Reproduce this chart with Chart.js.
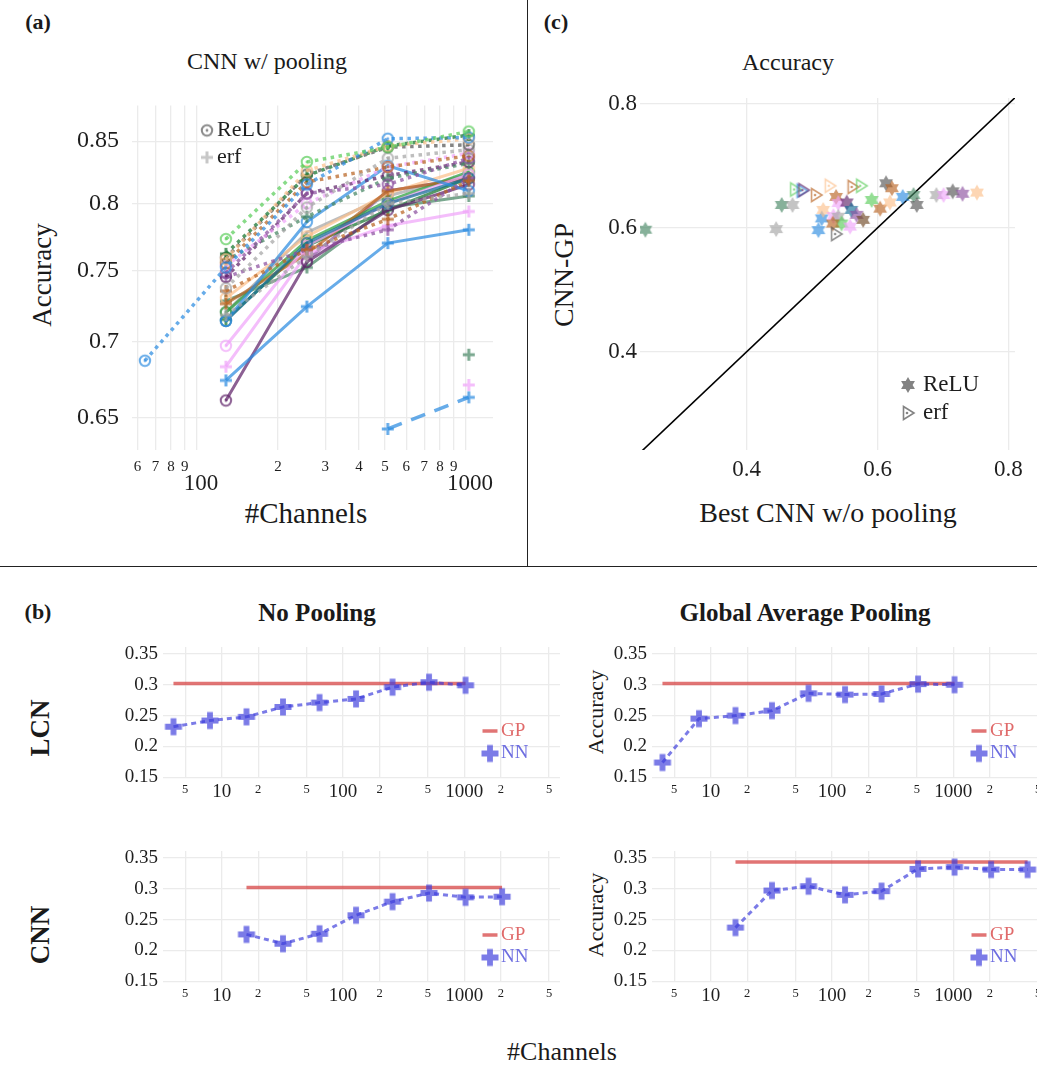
<!DOCTYPE html>
<html>
<head>
<meta charset="utf-8">
<script src="https://cdn.jsdelivr.net/npm/chart.js@4.4.1/dist/chart.umd.min.js"></script>
<style>
  body { margin: 0; width: 1037px; height: 1082px; overflow: hidden; position: relative; background: #fff;
         font-family: "Liberation Serif", "Times New Roman", serif; color: #1a1a1a; }
  canvas { position: absolute; }
  .t { position: absolute; white-space: nowrap; transform: translate(-50%, -50%); line-height: 1; }
  .v { transform: translate(-50%, -50%) rotate(-90deg); }
  .b { font-weight: bold; }
  .rule { position: absolute; background: #222; }
</style>
</head>
<body>

<div class="rule" style="left:527px;top:0;width:1px;height:566px"></div>
<div class="rule" style="left:0;top:566px;width:1037px;height:1px"></div>

<div class="t b" style="left:38px;top:22px;font-size:22px">(a)</div>
<div class="t b" style="left:556px;top:22px;font-size:22px">(c)</div>
<div class="t b" style="left:38px;top:612px;font-size:22px">(b)</div>

<div class="t" style="left:267px;top:61px;font-size:24px">CNN w/ pooling</div>
<div class="t v" style="left:42px;top:275px;font-size:27px">Accuracy</div>
<div class="t" style="left:306px;top:513px;font-size:29px">#Channels</div>

<div class="t" style="left:788px;top:62px;font-size:24px">Accuracy</div>
<div class="t v" style="left:564px;top:275px;font-size:28px">CNN-GP</div>
<div class="t" style="left:828px;top:513px;font-size:28px">Best CNN w/o pooling</div>

<div class="t b" style="left:317px;top:612px;font-size:25px">No Pooling</div>
<div class="t b" style="left:805px;top:612px;font-size:25px">Global Average Pooling</div>
<div class="t v b" style="left:40px;top:728px;font-size:27px">LCN</div>
<div class="t v b" style="left:40px;top:935px;font-size:27px">CNN</div>
<div class="t v" style="left:596px;top:712px;font-size:22px">Accuracy</div>
<div class="t v" style="left:596px;top:915px;font-size:22px">Accuracy</div>
<div class="t" style="left:562px;top:1052px;font-size:26px">#Channels</div>

<canvas id="pa"></canvas>
<canvas id="pc"></canvas>
<canvas id="lcnNo"></canvas>
<canvas id="lcnGap"></canvas>
<canvas id="cnnNo"></canvas>
<canvas id="cnnGap"></canvas>

<script>
// ---------- (a) CNN w/ pooling ----------
const aChannels = [64, 128, 256, 512, 1024]
const aAccuracy = [
  [null, 0.773, 0.833, 0.845, 0.858],
  [0.687, 0.752, 0.815, 0.852, 0.853],
  [null, 0.758, 0.826, 0.846, 0.852],
  [null, 0.762, 0.822, 0.846, 0.855],
  [null, 0.759, 0.823, 0.845, 0.847],
  [null, 0.737, 0.797, 0.836, 0.843],
  [null, 0.755, 0.817, 0.829, 0.838],
  [null, 0.748, 0.808, 0.815, 0.836],
  [null, 0.753, 0.800, 0.829, 0.840],
  [null, 0.757, 0.790, 0.820, 0.832],
  [null, 0.745, 0.808, 0.822, 0.833],
  [null, 0.718, 0.760, 0.800, 0.808],
  [null, 0.735, 0.765, 0.788, 0.818],
  [null, 0.745, 0.765, 0.780, 0.820],
  [null, 0.674, 0.724, 0.770, 0.780],
  [null, 0.714, 0.786, 0.830, 0.810],
  [null, 0.714, 0.770, 0.800, 0.820],
  [null, 0.661, 0.756, 0.795, 0.815],
  [null, 0.697, 0.768, 0.800, 0.823],
  [null, 0.683, 0.762, 0.783, 0.794],
  [null, 0.726, 0.762, 0.810, 0.820],
  [null, 0.730, 0.775, 0.808, 0.828],
  [null, 0.728, 0.752, 0.797, 0.806],
  [null, 0.720, 0.772, 0.802, 0.825],
  [null, 0.715, 0.768, 0.795, 0.820],
  [null, 0.720, 0.778, 0.806, 0.823],
  [null, null, 0.757, 0.810, 0.820],
  [null, null, null, null, 0.691],
  [null, null, null, null, 0.671],
  [null, null, null, 0.643, 0.663]
]
const aActivation = ['ReLU', 'ReLU', 'ReLU', 'erf', 'ReLU', 'ReLU', 'ReLU', 'ReLU', 'ReLU', 'erf',
  'ReLU', 'erf', 'erf', 'erf', 'erf', 'ReLU', 'ReLU', 'ReLU', 'ReLU', 'erf',
  'erf', 'ReLU', 'erf', 'ReLU', 'erf', 'ReLU', 'ReLU', 'erf', 'erf', 'erf']
const aXTicks = [60, 70, 80, 90, 100, 200, 300, 400, 500, 600, 700, 800, 900, 1000]
const aYTicks = [0.65, 0.7, 0.75, 0.8, 0.85]

// ---------- (c) CNN-GP vs best CNN w/o pooling ----------
const cBestCNN = [0.245, 0.445, 0.4535, 0.470, 0.5096, 0.5147, 0.517, 0.5325, 0.5366, 0.540,
  0.553, 0.540, 0.545, 0.5315, 0.558, 0.560, 0.568, 0.578, 0.591, 0.604,
  0.619, 0.613, 0.622, 0.6385, 0.655, 0.660, 0.690, 0.701, 0.715, 0.730, 0.752,
  0.474, 0.484, 0.4867, 0.506, 0.527, 0.562, 0.575, 0.5366]
const cCNNGP = [0.597, 0.598, 0.637, 0.637, 0.5964, 0.6153, 0.629, 0.619, 0.650, 0.640,
  0.641, 0.618, 0.607, 0.607, 0.602, 0.629, 0.621, 0.613, 0.645, 0.631,
  0.641, 0.672, 0.664, 0.650, 0.653, 0.637, 0.653, 0.653, 0.659, 0.655, 0.657,
  0.662, 0.660, 0.661, 0.653, 0.668, 0.666, 0.668, 0.590]
const cActivation = ['ReLU', 'ReLU', 'ReLU', 'ReLU', 'ReLU', 'ReLU', 'ReLU', 'ReLU', 'ReLU', 'ReLU',
  'ReLU', 'ReLU', 'ReLU', 'ReLU', 'ReLU', 'ReLU', 'ReLU', 'ReLU', 'ReLU', 'ReLU',
  'ReLU', 'ReLU', 'ReLU', 'ReLU', 'ReLU', 'ReLU', 'ReLU', 'ReLU', 'ReLU', 'ReLU', 'ReLU',
  'erf', 'erf', 'erf', 'erf', 'erf', 'erf', 'erf', 'erf']
const cTicks = [0.4, 0.6, 0.8]

// ---------- (b) accuracy vs #channels ----------
const bXTicks = [5, 10, 20, 50, 100, 200, 500, 1000, 2000, 5000]
const bYTicks = [0.15, 0.2, 0.25, 0.3, 0.35]
const lcnNoPoolCh = [4, 8, 16, 32, 64, 128, 256, 512, 1024]
const lcnNoPoolNN = [0.232, 0.242, 0.248, 0.264, 0.271, 0.277, 0.296, 0.304, 0.299]
const lcnNoPoolGP = 0.302
const lcnGapCh = [4, 8, 16, 32, 64, 128, 256, 512, 1024]
const lcnGapNN = [0.174, 0.245, 0.250, 0.258, 0.286, 0.284, 0.285, 0.301, 0.300]
const lcnGapGP = 0.302
const cnnNoPoolCh = [16, 32, 64, 128, 256, 512, 1024, 2048]
const cnnNoPoolNN = [0.226, 0.211, 0.227, 0.257, 0.279, 0.293, 0.286, 0.287]
const cnnNoPoolGP = 0.302
const cnnGapCh = [16, 32, 64, 128, 256, 512, 1024, 2048, 4096]
const cnnGapNN = [0.237, 0.297, 0.304, 0.290, 0.296, 0.332, 0.335, 0.331, 0.331]
const cnnGapGP = 0.343


// ---------- styling ----------
const FONT = '"Liberation Serif", "Times New Roman", serif'
const INK = '#1e1e1e'
const GRID = '#ebebeb'

const pal = {
  blue: '45,140,225', lightGreen: '90,205,90', darkGreen: '20,115,45', seaGreen: '70,135,100',
  green: '40,160,60', peach: '252,192,140', brown: '185,100,35', darkBrown: '110,70,35',
  gray: '165,165,165', darkGray: '85,85,85', pink: '240,165,250', purple: '140,80,160',
  darkPurple: '95,35,105', teal: '20,110,150'
}
const aColor = ['lightGreen', 'blue', 'peach', 'darkGreen', 'darkGray', 'gray', 'brown', 'purple', 'pink', 'seaGreen',
  'darkPurple', 'gray', 'brown', 'purple', 'blue', 'blue', 'teal', 'darkPurple', 'pink', 'pink',
  'brown', 'peach', 'seaGreen', 'green', 'darkGreen', 'gray', 'purple', 'seaGreen', 'pink', 'blue']
const aLine = ['dot', 'dot', 'dot', 'dot', 'dot', 'dot', 'dot', 'dot', 'dot', 'dot',
  'dot', 'dot', 'dot', 'dot', 'solid', 'solid', 'solid', 'solid', 'solid', 'solid',
  'solid', 'solid', 'solid', 'solid', 'solid', 'solid', 'solid', 'none', 'none', 'dash']
const cColor = ['seaGreen', 'gray', 'seaGreen', 'gray', 'blue', 'blue', 'peach', 'pink', 'brown', 'pink',
  'darkPurple', 'gray', 'lightGreen', 'brown', 'pink', 'teal', 'purple', 'darkBrown', 'lightGreen', 'brown',
  'peach', 'darkGray', 'brown', 'blue', 'seaGreen', 'darkGray', 'gray', 'pink', 'darkGray', 'purple', 'peach',
  'lightGreen', 'blue', 'darkPurple', 'brown', 'peach', 'brown', 'lightGreen', 'darkGray']

function rgba(name, a) { return 'rgba(' + pal[name] + ',' + a + ')' }

// little canvases used as point symbols
function marker(kind, color) {
  const s = 24
  const c = document.createElement('canvas')
  c.width = s; c.height = s
  const g = c.getContext('2d'), m = s / 2
  g.strokeStyle = color; g.fillStyle = color
  if (kind === 'relu') {
    g.lineWidth = 2
    g.beginPath(); g.arc(m, m, 5.2, 0, 2 * Math.PI); g.stroke()
    g.beginPath(); g.arc(m, m, 1.4, 0, 2 * Math.PI); g.fill()
  } else if (kind === 'erf') {
    g.lineWidth = 3
    g.beginPath(); g.moveTo(m - 6, m); g.lineTo(m + 6, m); g.moveTo(m, m - 6); g.lineTo(m, m + 6); g.stroke()
  } else if (kind === 'star') {
    const r = 8
    g.beginPath()
    for (let k = 0; k < 2; k++) {
      for (let j = 0; j < 3; j++) {
        const a = -Math.PI / 2 + k * Math.PI + j * 2 * Math.PI / 3
        if (j === 0) g.moveTo(m + r * Math.cos(a), m + r * Math.sin(a))
        else g.lineTo(m + r * Math.cos(a), m + r * Math.sin(a))
      }
      g.closePath()
    }
    g.fill()
  } else if (kind === 'tri') {
    g.lineWidth = 1.6
    g.beginPath(); g.moveTo(m - 4.5, m - 6.5); g.lineTo(m + 6, m); g.lineTo(m - 4.5, m + 6.5); g.closePath(); g.stroke()
    g.beginPath(); g.arc(m - 1, m, 1.3, 0, 2 * Math.PI); g.fill()
  } else if (kind === 'bplus') {
    const a = 8.5, t = 2.9
    g.beginPath()
    g.moveTo(m - t, m - a); g.lineTo(m + t, m - a); g.lineTo(m + t, m - t); g.lineTo(m + a, m - t)
    g.lineTo(m + a, m + t); g.lineTo(m + t, m + t); g.lineTo(m + t, m + a); g.lineTo(m - t, m + a)
    g.lineTo(m - t, m + t); g.lineTo(m - a, m + t); g.lineTo(m - a, m - t); g.lineTo(m - t, m - t)
    g.closePath(); g.fill()
  }
  return c
}

// size the canvas so that the plot area lands on box
function place(id, box, yW, xH, padT, padR) {
  const cv = document.getElementById(id)
  cv.width = box.r - box.l + yW + padR
  cv.height = box.b - box.t + padT + xH
  cv.style.left = (box.l - yW) + 'px'
  cv.style.top = (box.t - padT) + 'px'
  return cv
}

// tick labels of a log axis: small digits between decades, big numbers at decades
function logLabels(o) {
  return {
    id: 'logLabels',
    afterDraw(chart) {
      const xs = chart.scales.x, ctx = chart.ctx, bottom = chart.chartArea.bottom
      ctx.save()
      ctx.fillStyle = INK
      ctx.textAlign = 'center'
      ctx.textBaseline = 'middle'
      o.ticks.forEach(v => {
        const lg = Math.log10(v)
        const major = Math.abs(lg - Math.round(lg)) < 1e-9
        const txt = major ? String(v) : String(Math.round(v / Math.pow(10, Math.floor(lg))))
        ctx.font = (major ? o.major : o.minor) + 'px ' + FONT
        ctx.fillText(txt, xs.getPixelForValue(v) + (major ? o.majorDx : 0), bottom + (major ? o.majorDy : o.minorDy))
      })
      ctx.restore()
    }
  }
}

// legend drawn inside the panel
function keyBox(o) {
  return {
    id: 'keyBox',
    afterDraw(chart) {
      const ctx = chart.ctx, a = chart.chartArea
      ctx.save()
      ctx.font = o.size + 'px ' + FONT
      ctx.textBaseline = 'middle'
      ctx.textAlign = 'left'
      o.items.forEach((it, i) => {
        const x = a.left + o.dx, y = a.top + o.dy + i * o.step
        if (it.img) ctx.drawImage(it.img, x - it.img.width / 2, y - it.img.height / 2)
        if (it.line) {
          ctx.strokeStyle = it.line; ctx.lineWidth = 3.5
          ctx.beginPath(); ctx.moveTo(x - 7.5, y); ctx.lineTo(x + 7.5, y); ctx.stroke()
        }
        ctx.fillStyle = it.color || INK
        ctx.fillText(it.text, x + o.gap, y)
      })
      ctx.restore()
    }
  }
}

function logAxis(min, max, ticks, xH) {
  return {
    type: 'logarithmic', min: min, max: max,
    afterBuildTicks: s => { s.ticks = ticks.map(v => ({ value: v })) },
    afterFit: s => { s.height = xH },
    ticks: { display: false },
    grid: { color: GRID, lineWidth: 1.3, drawTicks: false },
    border: { display: false }
  }
}

function valueAxis(type, min, max, ticks, yW, size, pad) {
  return {
    type: type, min: min, max: max, position: 'left',
    afterBuildTicks: s => { s.ticks = ticks.map(v => ({ value: v })) },
    afterFit: s => { s.width = yW },
    ticks: { color: INK, font: { family: FONT, size: size }, padding: pad, callback: v => String(v) },
    grid: { color: GRID, lineWidth: 1.3, drawTicks: false },
    border: { display: false }
  }
}

function baseOptions(padT, padR, scales) {
  return {
    responsive: false, animation: false, events: [],
    layout: { padding: { top: padT, right: padR, left: 0, bottom: 0 }, autoPadding: false },
    plugins: { legend: { display: false }, tooltip: { enabled: false } },
    scales: scales
  }
}

// ---------- panel (a) ----------
{
  const box = { l: 132, r: 493, t: 98, b: 450 }
  const cv = place('pa', box, 110, 50, 20, 10)
  const sets = aAccuracy.map((vals, i) => {
    const col = rgba(aColor[i], 0.72)
    const st = aLine[i]
    return {
      data: vals.map((v, j) => ({ x: aChannels[j], y: v })),
      borderColor: col,
      borderWidth: st === 'solid' ? 3 : 3.5,
      borderDash: st === 'dot' ? [3.5, 4.5] : st === 'dash' ? [15, 10] : [],
      showLine: st !== 'none',
      spanGaps: false,
      pointStyle: marker(aActivation[i] === 'ReLU' ? 'relu' : 'erf', col),
      pointRadius: 5
    }
  })
  new Chart(cv, {
    type: 'line',
    data: { datasets: sets },
    options: baseOptions(20, 10, {
      x: logAxis(57.3, 1260, aXTicks, 50),
      y: valueAxis('logarithmic', 0.630, 0.880, aYTicks, 110, 24, 13)
    }),
    plugins: [
      logLabels({ ticks: aXTicks, minor: 15, major: 23, minorDy: 17, majorDy: 34, majorDx: 4 }),
      keyBox({ dx: 75, dy: 25, step: 27, gap: 10, size: 22, items: [
        { img: marker('relu', 'rgba(100,100,100,0.75)'), text: 'ReLU' },
        { img: marker('erf', 'rgba(185,185,185,0.8)'), text: 'erf' }
      ] })
    ]
  })
}

// ---------- panel (c) ----------
{
  const box = { l: 640, r: 1015, t: 98, b: 450 }
  const cv = place('pc', box, 40, 45, 20, 30)
  const lo = 0.2368, hi = 0.8102
  new Chart(cv, {
    type: 'scatter',
    data: { datasets: [
      {
        data: cBestCNN.map((x, i) => ({ x: x, y: cCNNGP[i] })),
        pointStyle: cBestCNN.map((x, i) => marker(cActivation[i] === 'ReLU' ? 'star' : 'tri', rgba(cColor[i], 0.65))),
        pointRadius: 6
      },
      {
        data: [{ x: lo, y: lo }, { x: hi, y: hi }],
        showLine: true, borderColor: '#000', borderWidth: 1.6, pointRadius: 0
      }
    ] },
    options: baseOptions(20, 30, {
      x: {
        type: 'linear', min: lo, max: hi,
        afterBuildTicks: s => { s.ticks = cTicks.map(v => ({ value: v })) },
        afterFit: s => { s.height = 45 },
        ticks: { color: INK, font: { family: FONT, size: 23 }, padding: 6, callback: v => String(v) },
        grid: { color: GRID, lineWidth: 1.3, drawTicks: false },
        border: { display: false }
      },
      y: valueAxis('linear', 0.2413, 0.8097, cTicks, 40, 23, 3)
    }),
    plugins: [
      keyBox({ dx: 268, dy: 287, step: 28, gap: 15, size: 23, items: [
        { img: marker('star', 'rgba(90,90,90,0.75)'), text: 'ReLU' },
        { img: marker('tri', 'rgba(90,90,90,0.75)'), text: 'erf' }
      ] })
    ]
  })
}

// ---------- panel (b) ----------
function accuracyPanel(id, box, ch, nn, gp) {
  const cv = place(id, box, 60, 30, 20, 10)
  const nnCol = 'rgba(60,60,220,0.68)'
  const gpCol = 'rgba(215,70,70,0.75)'
  new Chart(cv, {
    type: 'line',
    data: { datasets: [
      {
        data: ch.map((c, i) => ({ x: c, y: nn[i] })),
        borderColor: nnCol, borderWidth: 3, borderDash: [5, 4],
        pointStyle: marker('bplus', nnCol), pointRadius: 5
      },
      {
        data: [{ x: ch[0], y: gp }, { x: ch[ch.length - 1], y: gp }],
        borderColor: gpCol, borderWidth: 3.5, pointRadius: 0
      }
    ] },
    options: baseOptions(20, 10, {
      x: logAxis(3.28, 6150, bXTicks, 30),
      y: valueAxis('linear', 0.149, 0.361, bYTicks, 60, 19, 5)
    }),
    plugins: [
      logLabels({ ticks: bXTicks, minor: 12.5, major: 19, minorDy: 11.5, majorDy: 14.5, majorDx: 0 }),
      keyBox({ dx: 327, dy: 84, step: 22.5, gap: 11, size: 19, items: [
        { line: gpCol, text: 'GP', color: '#e06a6a' },
        { img: marker('bplus', nnCol), text: 'NN', color: '#6d6de0' }
      ] })
    ]
  })
}

accuracyPanel('lcnNo', { l: 163, r: 560, t: 647, b: 778 }, lcnNoPoolCh, lcnNoPoolNN, lcnNoPoolGP)
accuracyPanel('lcnGap', { l: 652, r: 1049, t: 647, b: 778 }, lcnGapCh, lcnGapNN, lcnGapGP)
accuracyPanel('cnnNo', { l: 163, r: 560, t: 851, b: 982 }, cnnNoPoolCh, cnnNoPoolNN, cnnNoPoolGP)
accuracyPanel('cnnGap', { l: 652, r: 1049, t: 851, b: 982 }, cnnGapCh, cnnGapNN, cnnGapGP)
</script>
</body>
</html>
